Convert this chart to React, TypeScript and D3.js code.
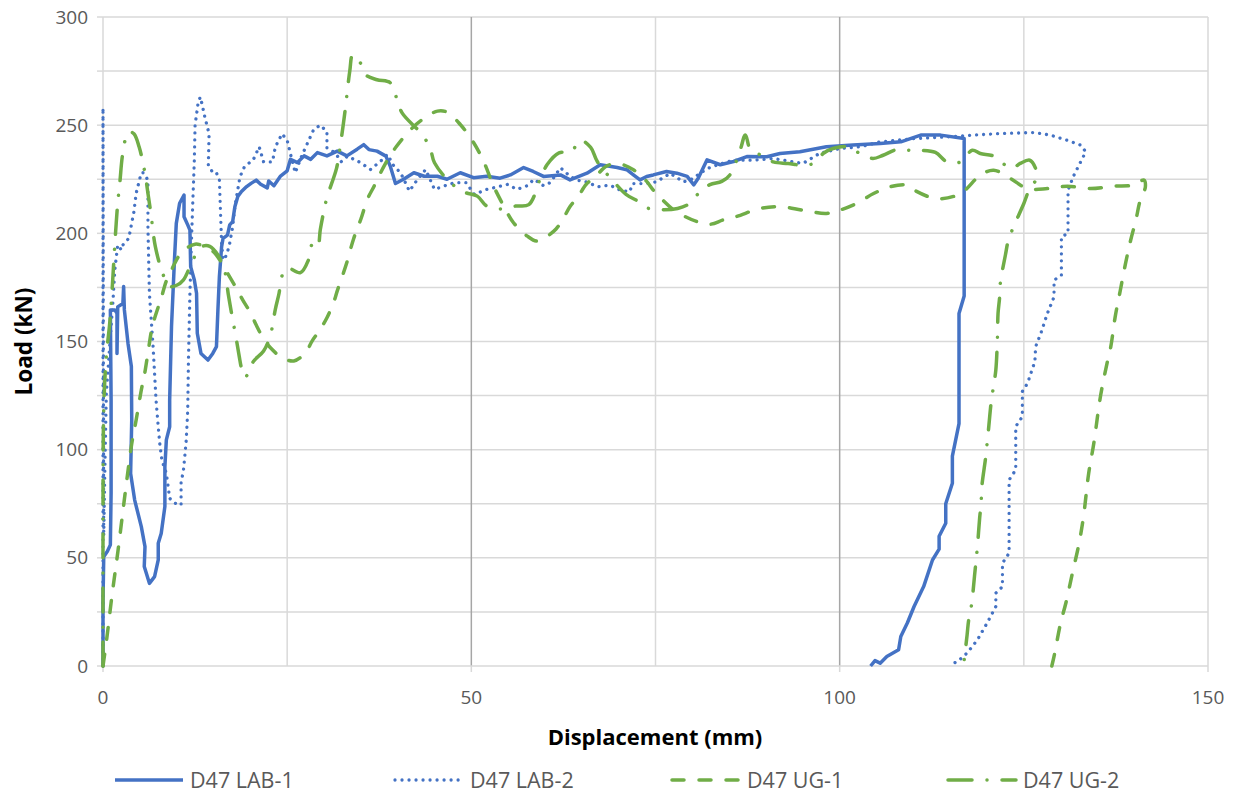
import * as d3 from 'd3';

// D47 specimens: displacement (mm), load (kN)
const lab1: [number, number][] = [
  [0, 0], [0, 30], [0.1, 50.5], [0.6, 53], [1.0, 56], [1.1, 80], [1.1, 123], [1.0, 164.6], [1.6, 164.6],
  [1.9, 163], [1.9, 144.5], [2.0, 166], [2.7, 167.6], [2.8, 175.4], [2.9, 164.6], [3.4, 149], [3.85, 138.4],
  [3.9, 113.7], [3.75, 89], [4.3, 76.7], [5.2, 64.4], [5.7, 55.2], [5.6, 46], [6.3, 38.2], [7.0, 41.3],
  [7.5, 49], [7.5, 56.7], [7.9, 61.3], [8.4, 73.7], [8.4, 92], [8.6, 104.5], [9.05, 110.6], [9.05, 123],
  [9.3, 156.9], [9.7, 187.7], [9.95, 204.6], [10.4, 213.9], [11, 217.7], [11, 207.7], [11.5, 203.9],
  [11.8, 201.5], [11.9, 184.6], [12.4, 178.4], [12.7, 172.3], [12.8, 153.8], [13.3, 144.5], [14.25, 141.4],
  [14.9, 144.5], [15.4, 147.6], [15.6, 164.6], [15.8, 180], [16.1, 193.8], [16.3, 197.7], [16.9, 199.2],
  [17.2, 203.9], [17.6, 205.4], [17.9, 212.3], [18.3, 217], [18.8, 219.3], [19.5, 221.6], [20.1, 223.1],
  [20.8, 224.6], [21.4, 222.7], [22.3, 221], [22.5, 224.2], [23.2, 222], [24.1, 226.5], [25, 228.9],
  [25.45, 234.2], [26.4, 232.7], [27.3, 235.8], [28.2, 234.2], [29.1, 237.3], [30.4, 235.8], [31.8, 238],
  [33.1, 235.8], [34.5, 238.9], [35.4, 241], [36.1, 238.7], [37.2, 238], [38.4, 235.7], [39.0, 231],
  [39.7, 223], [40.8, 225], [42.2, 228], [43.6, 226.4], [45.4, 226.4], [46.7, 225], [48.5, 228],
  [50.3, 225.7], [52.1, 226.4], [53.9, 225.5], [55.3, 227], [57.1, 230.4], [58.4, 228.6], [59.8, 226.3],
  [62.1, 227], [63.4, 224.7], [65.7, 227.8], [67.5, 231.7], [69.8, 230.4], [71.1, 229.4], [72, 227],
  [72.9, 224.7], [73.8, 226.3], [74.7, 227], [76.5, 228.6], [77.9, 227.8], [79.3, 226.3], [80.2, 222.4],
  [80.8, 225.5], [82, 234], [83.8, 231.7], [85.6, 233.2], [87.4, 235.5], [90.1, 235.4], [91.9, 236.9],
  [94.6, 237.7], [98.2, 240], [101.8, 240.8], [105.5, 241.5], [108.3, 242.3], [111, 245.4], [113.7, 245.4],
  [116.9, 243.8], [116.9, 171], [116.2, 163], [116.2, 112], [115.3, 97], [115.3, 84.5], [114.4, 75],
  [114.4, 66], [113.5, 60], [113.5, 54], [112.6, 49], [111.4, 36.7], [110.1, 27.5], [109.2, 20],
  [108.3, 13.6], [108.0, 7.5], [106.4, 4.4], [105.5, 1.3], [104.8, 2.5], [104.2, 0],
];

const lab2: [number, number][] = [
  [0, 0], [0, 258], [0.1, 60], [0.3, 100], [0.45, 126], [0.9, 147.6], [1.36, 169], [1.6, 183], [2.0, 194.6],
  [2.5, 192.3], [2.7, 194.6], [3.5, 197.7], [3.85, 203.9], [4.2, 210], [4.5, 218.5], [5.2, 228], [5.5, 228],
  [6.1, 224.6], [6.1, 203], [6.3, 172.3], [6.8, 147.6], [7.2, 123], [7.5, 110.6], [7.7, 103], [8, 95],
  [8.6, 89], [8.9, 81.4], [9.05, 77.5], [9.8, 75.2], [10.6, 74.4], [10.6, 78.3], [10.6, 85.2], [10.9, 89.8],
  [11.1, 96.8], [11.3, 104.5], [11.5, 118], [11.6, 141.4], [11.8, 172.3], [12, 195.4], [12.2, 215.4],
  [12.4, 234], [12.5, 250], [12.9, 260], [13.2, 263], [13.5, 259], [13.7, 255.5], [14.1, 250], [14.4, 246],
  [14.3, 231.6], [14.9, 228], [15.4, 228], [15.8, 224.6], [16.1, 195.4], [16.3, 187.7], [16.8, 190],
  [17.2, 195.4], [17.6, 203], [17.9, 212.3], [18.6, 226.2], [19.2, 230.8], [20.4, 234], [21.2, 240],
  [21.8, 233], [23, 233], [23.4, 240], [24.3, 246], [25, 243], [25.5, 236], [26.1, 228], [27, 236],
  [28.6, 248], [29.5, 250], [30.4, 247], [30.4, 239.5], [31.6, 237], [32.3, 233], [33.2, 235.7], [35, 232.6],
  [36.3, 229.5], [37.7, 233.4], [38.6, 236.5], [39.5, 231], [40.4, 228], [41.6, 219.5], [42.7, 225],
  [43.8, 229.5], [45, 220.3], [46.4, 222], [47.7, 223.4], [49.3, 223.4], [50.4, 218], [52.1, 220.3],
  [54.9, 222.6], [56.2, 220.3], [57.6, 222], [58.5, 225], [59.8, 222], [60.7, 223.4], [62.1, 230.3],
  [63.4, 226.4], [64.3, 224.6], [65.6, 223.8], [67.2, 221.5], [68.8, 222.3], [70.2, 220], [71.5, 219.2],
  [71.9, 223], [73.7, 223], [75.1, 223.8], [77, 227.7], [78.8, 223.8], [80.1, 225.3], [81, 227.7],
  [82.1, 230], [83.3, 231.5], [85.5, 233.8], [88.3, 233.8], [91, 234.6], [95, 232.3], [97.3, 237],
  [100, 239.2], [102.8, 240], [105.5, 242.3], [110.1, 243.8], [114.6, 244.6], [118.2, 245.4], [121.4, 246.1],
  [126.4, 246.6], [128.6, 245.4], [130.9, 243], [132.7, 240.8], [133.4, 237.7], [132.6, 232.3],
  [131.8, 226.9], [131, 220], [131, 200], [130.1, 198.4], [130.1, 180.7], [129.1, 178.3], [129.1, 170.6],
  [128.2, 163], [127.3, 153.7], [126.6, 147.6], [126.5, 140.8], [125.5, 130.7], [124.8, 126.9],
  [124.8, 115.3], [123.9, 110.7], [123.9, 90.7], [123, 86], [123, 52.2], [122.1, 47.5], [122.1, 36.7],
  [121.2, 33.7], [121.2, 27.5], [120, 19.8], [118.7, 12.1], [117.3, 6], [116, 2], [114.8, 0.5],
];

const ug1: [number, number][] = [
  [0, 0], [0.5, 12.4], [1.2, 32], [2.1, 55], [3.0, 79.7], [3.9, 102.7], [4.5, 113.7], [5.2, 127.6],
  [5.66, 135.3], [6.2, 147], [6.7, 157], [7.5, 166], [7.9, 170], [8.6, 178], [9.3, 183], [10.2, 189],
  [11.3, 193], [12.5, 195], [13.3, 194.6], [14.7, 192.3], [15.6, 189], [17, 181], [18.1, 174.6], [19, 169],
  [20, 163.4], [20.8, 157.6], [21.7, 151.8], [22.7, 147.2], [24.3, 142.6], [25.9, 141], [27.5, 144.9],
  [28.4, 150.3], [29.5, 155.7], [30.4, 161], [31.3, 168], [31.8, 173.4], [32.5, 180.3], [33.1, 186.5],
  [34, 197.3], [35, 206.5], [35.9, 215.8], [36.8, 221.8], [38.3, 232], [39.8, 240], [41.5, 247], [43.1, 252],
  [45.4, 256.5], [46.7, 256], [48.5, 250.3], [50.3, 242], [51.7, 233], [53, 222], [54.4, 212.6], [55.7, 205],
  [57.6, 198.7], [58.9, 196.4], [60.3, 198.7], [61.5, 202], [62.5, 207], [63.4, 212.4], [64.5, 217],
  [65.6, 222.7], [66.8, 226], [68.4, 231.2], [70.2, 232], [72, 229.4], [73.8, 224], [74.7, 220], [76.1, 215],
  [77.4, 211], [79, 207.8], [80.6, 205.5], [82.4, 204.2], [84.2, 206.2], [86, 207.8], [89.2, 211.5],
  [91.9, 212.3], [95, 210.7], [98.2, 209.2], [100, 210.7], [102.3, 213.8], [104.6, 218.4], [106.8, 221.5],
  [109.1, 222.3], [110.1, 220], [113.2, 216], [116.4, 218.4], [119.1, 226.9], [120.9, 229.2], [123.2, 225.3],
  [125.5, 220.7], [128.2, 220.7], [130.9, 221.8], [134.1, 220.7], [137.2, 221.8], [139.9, 222.3],
  [141.3, 224.6], [141.5, 221.5], [140.8, 215.3], [140.2, 206], [139.5, 196.8], [138.8, 186], [138.1, 173.7],
  [137.4, 161.4], [136.8, 147.5], [136.3, 140], [135.4, 124.6], [134.5, 103], [133.8, 89], [133.1, 69],
  [132.5, 56.8], [131.6, 43], [130.7, 29], [130, 20], [129.1, 4.4], [128.8, 0],
];

const ug2: [number, number][] = [
  [0, 0], [0, 60], [0.05, 110], [0.23, 131], [0.5, 145], [0.9, 158], [1.2, 172], [1.45, 186], [1.7, 200],
  [2.0, 214], [2.3, 224], [2.6, 235], [3.0, 243], [3.5, 247], [4.2, 246], [4.9, 240], [5.66, 228.5],
  [6.1, 218.5], [6.56, 207.7], [7.1, 194], [8.1, 181.5], [9.0, 175.5], [10.0, 176], [10.9, 178.4], [12.4, 189],
  [13.5, 194], [14.5, 194], [15.6, 190], [16.5, 183], [17, 172], [17.4, 164], [18.1, 151], [18.5, 143],
  [18.8, 137.6], [19.2, 133.5], [19.8, 135.5], [20.4, 140.7], [21.8, 145.6], [22.7, 152.6], [23.4, 165],
  [23.9, 172.3], [24.3, 180.3], [25, 184], [26.8, 181.8], [27.9, 187.8], [28.4, 194.8], [29.1, 193.4],
  [29.5, 201.8], [29.9, 209], [30.4, 216.5], [31.7, 230], [32.1, 238], [32.8, 255], [33.5, 275], [33.9, 282.5],
  [34.9, 279], [35.6, 273.4], [37.2, 271], [39, 269.6], [39.9, 262], [40.6, 255.7], [43.3, 245.7],
  [44.4, 239.5], [45, 232.6], [47.2, 223.3], [49.1, 219], [50.8, 217.2], [52.1, 212.6], [54, 211.3],
  [56, 212.6], [57.8, 213.3], [59.4, 225.6], [60.3, 231.8], [61.9, 237.2], [63.5, 237.5], [64.8, 243],
  [66.2, 239.7], [67.1, 233.2], [69.5, 223.2], [71, 218], [72.7, 214.7], [74, 211.6], [76.1, 210.9],
  [78, 211.5], [79.5, 213.5], [81, 219], [82.4, 222.5], [84, 224], [85.1, 227], [86.5, 238.6], [87.2, 245.5],
  [87.9, 238.6], [89.2, 236.3], [91, 233], [93, 232.3], [95, 231.5], [96.4, 232.3], [97.8, 237], [99.1, 239.2],
  [101.2, 240], [102.7, 237], [104.5, 234.6], [105.9, 236.1], [107.8, 238.8], [109.6, 238.4], [111, 238.4],
  [113, 237.4], [114.6, 233], [116.4, 233], [118, 238.4], [119.1, 236.9], [120.9, 235.7], [122.5, 231.5],
  [123.4, 230], [124.5, 232.3], [125.8, 233.8], [126.6, 230], [126.8, 225.3], [125.9, 221.5], [125, 213.8],
  [123.6, 203], [122.9, 196.8], [122.5, 190], [121.8, 176.8], [121.7, 170], [121.5, 163], [121.4, 150],
  [121.2, 136.9], [120.9, 129.5], [120.6, 123], [120.2, 109.2], [120, 102.5], [119.8, 96], [119.3, 83],
  [119.2, 75.3], [119, 68.3], [118.7, 55.2], [118.5, 48.3], [118.3, 41.4], [117.9, 28.3], [117.5, 21],
  [117.3, 14.4], [116.8, 0],
];

const seriesNames = ['D47 LAB-1', 'D47 LAB-2', 'D47 UG-1', 'D47 UG-2'];
const xTicks = [0, 50, 100, 150];
const yTicks = [0, 50, 100, 150, 200, 250, 300];

const W = 1237;
const H = 796;
const blue = '#4472C4';
const green = '#70AD47';
const font = "'Open Sans', sans-serif";

export default function App() {
  const x = d3.scaleLinear().domain([0, 150]).range([103, 1208]);
  const y = d3.scaleLinear().domain([0, 300]).range([666, 17]);

  // lab curves are jagged, keep them straight-segmented; ug curves are smoothed
  const jagged = d3.line<[number, number]>().x(d => x(d[0])).y(d => y(d[1]));
  const smooth = d3
    .line<[number, number]>()
    .x(d => x(d[0]))
    .y(d => y(d[1]))
    .curve(d3.curveCatmullRom.alpha(0.5));

  const styles = [
    { color: blue, dash: undefined, width: 3.5, data: lab1, line: jagged },
    { color: blue, dash: '0.01 7', width: 3.3, data: lab2, line: jagged },
    { color: green, dash: '12 15', width: 3.5, data: ug1, line: smooth },
    { color: green, dash: '24 15 0.01 15', width: 3.5, data: ug2, line: smooth },
  ];

  const minorX = d3.range(25, 151, 25);
  const minorY = d3.range(25, 301, 25);
  const legendX = [115, 395, 672, 948];

  return (
    <svg width={W} height={H} style={{ position: 'absolute', left: 0, top: 0, background: '#fff' }}>
      {minorY.map(v => (
        <line key={'gy' + v} x1={x(0)} x2={x(150)} y1={y(v)} y2={y(v)} stroke="#d9d9d9" strokeWidth={1.5} />
      ))}
      {minorX.map(v => (
        <line
          key={'gx' + v}
          x1={x(v)} x2={x(v)} y1={y(0)} y2={y(300)}
          stroke={v === 50 || v === 100 ? '#a6a6a6' : '#d9d9d9'}
          strokeWidth={1.5}
        />
      ))}
      {/* axes */}
      <line x1={x(0)} x2={x(0)} y1={y(0)} y2={y(300)} stroke="#d9d9d9" strokeWidth={1.5} />
      <line x1={x(0)} x2={x(150)} y1={y(0)} y2={y(0)} stroke="#d9d9d9" strokeWidth={1.5} />
      {minorY.concat([0]).map(v => (
        <line key={'ty' + v} x1={x(0) - 6} x2={x(0)} y1={y(v)} y2={y(v)} stroke="#d9d9d9" strokeWidth={1.5} />
      ))}
      {xTicks.map(v => (
        <line key={'tx' + v} x1={x(v)} x2={x(v)} y1={y(0)} y2={y(0) + 6} stroke="#d9d9d9" strokeWidth={1.5} />
      ))}
      {yTicks.map(v => (
        <text key={'ly' + v} x={88} y={y(v)} dy="0.35em" textAnchor="end" fontFamily={font} fontSize={19} fill="#595959">
          {v}
        </text>
      ))}
      {xTicks.map(v => (
        <text key={'lx' + v} x={x(v)} y={704} textAnchor="middle" fontFamily={font} fontSize={19} fill="#595959">
          {v}
        </text>
      ))}
      <text x={655} y={745} textAnchor="middle" fontFamily={font} fontSize={22} fontWeight="bold" fill="#000">
        Displacement (mm)
      </text>
      <text
        transform={`translate(32,${(y(0) + y(300)) / 2}) rotate(-90)`}
        textAnchor="middle"
        fontFamily={font}
        fontSize={22.5}
        fontWeight="bold"
        fill="#000"
      >
        Load (kN)
      </text>

      {styles.map((s, i) => (
        <path
          key={'s' + i}
          d={s.line(s.data) || ''}
          fill="none"
          stroke={s.color}
          strokeWidth={s.width}
          strokeDasharray={s.dash}
          strokeLinecap={s.dash ? 'round' : 'butt'}
          strokeLinejoin="round"
        />
      ))}

      {seriesNames.map((n, i) => (
        <g key={'lg' + n} transform={`translate(${legendX[i]},780)`}>
          <line
            x1={0} x2={68} y1={0} y2={0}
            stroke={styles[i].color}
            strokeWidth={styles[i].width}
            strokeDasharray={styles[i].dash}
            strokeLinecap={styles[i].dash ? 'round' : 'butt'}
          />
          <text x={75} y={0} dy="0.35em" fontFamily={font} fontSize={21.5} fill="#595959">
            {n}
          </text>
        </g>
      ))}
    </svg>
  );
}
